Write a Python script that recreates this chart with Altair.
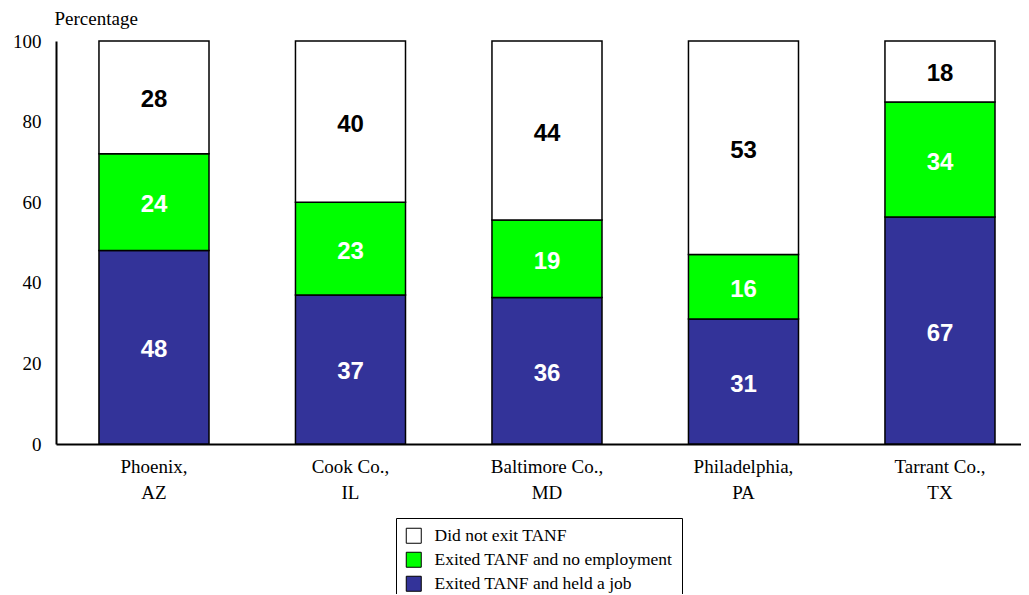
import altair as alt
import pandas as pd

cities = ["Phoenix, AZ", "Cook Co., IL", "Baltimore Co., MD", "Philadelphia, PA", "Tarrant Co., TX"]
series = ["Did not exit TANF", "Exited TANF and no employment", "Exited TANF and held a job"]
held_job = [48, 37, 36, 31, 67]
no_employment = [24, 23, 19, 16, 34]
did_not_exit = [28, 40, 44, 53, 18]
colors = ["#ffffff", "#00ff00", "#333399"]

rows = []
for i, c in enumerate(cities):
    for s, vals, order in [(series[2], held_job, 0), (series[1], no_employment, 1), (series[0], did_not_exit, 2)]:
        rows.append({"city": c, "series": s, "value": vals[i], "order": order})
df = pd.DataFrame(rows)

base = (
    alt.Chart(df)
    .transform_joinaggregate(total="sum(value)", groupby=["city"])
    .transform_calculate(pct="datum.value / datum.total * 100")
    .transform_stack(stack="pct", groupby=["city"], as_=["y0", "y1"],
                     sort=[alt.SortField("order", order="ascending")])
    .transform_calculate(mid="(datum.y0 + datum.y1) / 2")
)

x = alt.X(
    "city:N", sort=cities,
    scale=alt.Scale(paddingInner=0.44, paddingOuter=0.1755, align=0.623),
    axis=alt.Axis(
        title=None, labelAngle=0, ticks=False, domainColor="black", domainWidth=2,
        labelFont="Liberation Serif", labelFontSize=19, labelColor="black",
        labelPadding=13, labelLineHeight=26, labelBaseline="top",
        labelExpr="[split(datum.label, ', ')[0] + ',', split(datum.label, ', ')[1]]",
    ),
)

yscale = alt.Scale(domain=[0, 100], nice=False)

bars = base.mark_bar(stroke="black", strokeWidth=1.5).encode(
    x=x,
    y=alt.Y(
        "y0:Q", scale=yscale,
        axis=alt.Axis(
            values=[0, 20, 40, 60, 80, 100], grid=False, ticks=False,
            domainColor="black", domainWidth=2,
            labelFont="Liberation Serif", labelFontSize=19, labelColor="black", labelPadding=15,
            title="Percentage", titleAngle=0, titleAlign="left", titleBaseline="alphabetic",
            titleX=-2, titleY=-17, titleFont="Liberation Serif", titleFontSize=19,
            titleFontWeight="normal", titleColor="black",
        ),
    ),
    y2="y1:Q",
    color=alt.Color(
        "series:N",
        scale=alt.Scale(domain=series, range=colors),
        legend=alt.Legend(
            title=None, orient="none", legendX=340, legendY=477,
            strokeColor="black", fillColor="white", padding=9,
            symbolType="square", symbolSize=225, symbolStrokeColor="black",
            symbolStrokeWidth=1, symbolOpacity=1,
            labelFont="Liberation Serif", labelFontSize=17.5, labelColor="black",
            labelOffset=12, rowPadding=4, labelLimit=400,
        ),
    ),
    order=alt.Order("order:Q"),
)

labels = base.mark_text(
    font="Liberation Sans", fontWeight="bold", fontSize=24, baseline="middle", align="center", dy=3
).encode(
    x=alt.X("city:N", sort=cities),
    y=alt.Y("mid:Q", scale=yscale),
    text=alt.Text("value:Q"),
    color=alt.condition(alt.datum.series == "Did not exit TANF", alt.value("black"), alt.value("white")),
)

chart = (
    alt.layer(bars, labels)
    .properties(
        width=965, height=403,
        autosize=alt.AutoSizeParams(type="none"),
        padding={"left": 48, "top": 33, "right": 0, "bottom": 150},
        background="white",
    )
    .configure_view(stroke=None)
)

chart.save("out.html", embed_options={"renderer": "svg", "actions": False})
